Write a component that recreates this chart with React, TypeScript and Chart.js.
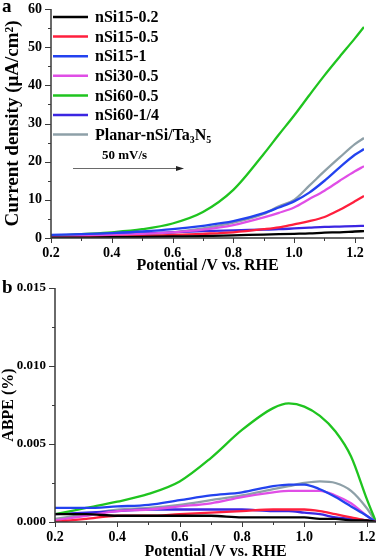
import { useEffect, useRef } from "react";
import { Chart, registerables } from "chart.js";

Chart.register(...registerables);

const FONT = "'Liberation Serif', 'Times New Roman', serif";

// ---------- data ----------
const POTENTIAL = [0.2, 0.3, 0.4, 0.5, 0.6, 0.7, 0.8, 0.9, 0.95, 1.0, 1.05, 1.1, 1.15, 1.2, 1.23];

const SERIES_NAMES = ["nSi15-0.2", "nSi15-0.5", "nSi15-1", "nSi30-0.5", "nSi60-0.5", "nSi60-1/4", "Planar-nSi/Ta₃N₅"];
const SERIES_COLORS = ["#000000", "#ff1f3d", "#2342ef", "#e04ee6", "#1fc41f", "#3b26e2", "#8ea0a8"];

// current density (µA/cm²)
const J_NSI15_02 = [0.1, 0.1, 0.2, 0.3, 0.4, 0.5, 0.7, 0.9, 1.0, 1.1, 1.2, 1.4, 1.5, 1.7, 1.8];
const J_NSI15_05 = [0, 0.1, 0.3, 0.5, 0.8, 1.1, 1.5, 2.3, 2.8, 3.6, 4.4, 5.5, 7.4, 9.6, 11];
const J_NSI15_1 = [0.8, 1.0, 1.3, 1.7, 2.3, 3.2, 4.4, 6.5, 8.0, 9.6, 11.9, 15, 18.5, 21.8, 23.3];
const J_NSI30_05 = [0.3, 0.5, 0.8, 1.1, 1.5, 2.2, 3.4, 5.4, 6.6, 8.0, 10.2, 12.4, 15, 17.5, 18.8];
const J_NSI60_05 = [0.5, 1.0, 1.5, 2.3, 3.8, 6.8, 12.6, 22.0, 27.1, 32.1, 37.4, 42.6, 47.5, 52.3, 55.3];
const J_NSI60_14 = [0.6, 0.8, 1.0, 1.2, 1.5, 1.8, 2.0, 2.2, 2.3, 2.5, 2.7, 2.9, 3.0, 3.1, 3.2];
const J_PLANAR = [0.3, 0.4, 0.6, 0.9, 1.5, 2.5, 4.0, 6.3, 8.3, 10.0, 13.7, 17.5, 21.1, 24.6, 26.2];

// ABPE (%)
const ABPE_NSI15_02 = [0.0005, 0.0005, 0.0004, 0.0004, 0.0004, 0.0004, 0.0003, 0.0003, 0.0003, 0.0003, 0.0002, 0.0002, 0.0001, 0.0001, 0];
const ABPE_NSI15_05 = [0, 0.0002, 0.0004, 0.0004, 0.0005, 0.0006, 0.0007, 0.0008, 0.0008, 0.0008, 0.0007, 0.0005, 0.0003, 0.0001, 0];
const ABPE_NSI15_1 = [0.0009, 0.0009, 0.001, 0.0011, 0.0014, 0.0017, 0.0019, 0.0023, 0.0024, 0.0024, 0.0021, 0.0016, 0.001, 0.0004, 0];
const ABPE_NSI30_05 = [0.0001, 0.0004, 0.0007, 0.0008, 0.001, 0.0012, 0.0016, 0.0019, 0.002, 0.002, 0.002, 0.0017, 0.0012, 0.0004, 0];
const ABPE_NSI60_05 = [0.0005, 0.0009, 0.0013, 0.0018, 0.0026, 0.0041, 0.0059, 0.0073, 0.0076, 0.0074, 0.0068, 0.0058, 0.0042, 0.0015, 0];
const ABPE_NSI60_14 = [0.0005, 0.0006, 0.0007, 0.0008, 0.0008, 0.0008, 0.0008, 0.0007, 0.0007, 0.0006, 0.0005, 0.0003, 0.0002, 0.0001, 0];
const ABPE_PLANAR = [0.0002, 0.0005, 0.0008, 0.0009, 0.0011, 0.0014, 0.0017, 0.0021, 0.0023, 0.0025, 0.0026, 0.0025, 0.002, 0.0009, 0];

const X_TICKS = [0.2, 0.4, 0.6, 0.8, 1.0, 1.2];
const X_MINOR = [0.3, 0.5, 0.7, 0.9, 1.1];
const J_TICKS = [0, 10, 20, 30, 40, 50, 60];
const J_MINOR = [5, 15, 25, 35, 45, 55];
const ABPE_TICKS = [0, 0.005, 0.01, 0.015];
const ABPE_MINOR = [0.0025, 0.0075, 0.0125];

const J_SERIES = [J_NSI15_02, J_NSI15_05, J_NSI15_1, J_NSI30_05, J_NSI60_05, J_NSI60_14, J_PLANAR];
const ABPE_SERIES = [ABPE_NSI15_02, ABPE_NSI15_05, ABPE_NSI15_1, ABPE_NSI30_05, ABPE_NSI60_05, ABPE_NSI60_14, ABPE_PLANAR];

// ---------- helpers ----------
const SUB: Record<string, string> = { "₀": "0", "₁": "1", "₂": "2", "₃": "3", "₄": "4", "₅": "5", "₆": "6", "₇": "7", "₈": "8", "₉": "9" };

function drawRich(ctx: CanvasRenderingContext2D, text: string, x: number, y: number, size: number) {
  const runs: { t: string; sub: boolean }[] = [];
  for (const ch of text) {
    const sub = ch in SUB;
    const c = sub ? SUB[ch] : ch;
    const last = runs[runs.length - 1];
    if (last && last.sub === sub) last.t += c;
    else runs.push({ t: c, sub });
  }
  let cx = x;
  for (const r of runs) {
    const s = r.sub ? size * 0.62 : size;
    ctx.font = `bold ${s}px ${FONT}`;
    ctx.fillText(r.t, cx, r.sub ? y + size * 0.32 : y);
    cx += ctx.measureText(r.t).width;
  }
}

const axesPlugin = {
  id: "axesDeco",
  afterDraw(chart: any, _args: any, opts: any) {
    const { ctx, chartArea: a, scales } = chart;
    const x = scales.x;
    const y = scales.y;
    ctx.save();
    ctx.strokeStyle = "#3a3a3a";
    ctx.lineWidth = 1.5;
    ctx.beginPath();
    ctx.moveTo(a.left, a.top);
    ctx.lineTo(a.left, a.bottom);
    ctx.lineTo(a.right, a.bottom);
    ctx.stroke();
    ctx.lineWidth = 1;
    ctx.beginPath();
    for (const v of opts.xMajor) {
      const px = Math.round(x.getPixelForValue(v)) + 0.5;
      ctx.moveTo(px, a.bottom);
      ctx.lineTo(px, a.bottom + 5);
    }
    for (const v of opts.xMinor) {
      const px = Math.round(x.getPixelForValue(v)) + 0.5;
      ctx.moveTo(px, a.bottom);
      ctx.lineTo(px, a.bottom + 3);
    }
    for (const v of opts.yMajor) {
      const py = Math.round(y.getPixelForValue(v)) + 0.5;
      ctx.moveTo(a.left, py);
      ctx.lineTo(a.left - 6, py);
    }
    for (const v of opts.yMinor) {
      const py = Math.round(y.getPixelForValue(v)) + 0.5;
      ctx.moveTo(a.left, py);
      ctx.lineTo(a.left - 3, py);
    }
    ctx.stroke();

    // panel letter
    ctx.fillStyle = "#000";
    ctx.font = `bold 19px ${FONT}`;
    ctx.textBaseline = "alphabetic";
    ctx.textAlign = "left";
    ctx.fillText(opts.letter, 2, opts.letterY);

    if (opts.legend) {
      const ds = chart.data.datasets;
      ctx.textBaseline = "middle";
      for (let i = 0; i < ds.length; i++) {
        const ry = 17 + i * 19.6;
        ctx.strokeStyle = ds[i].borderColor;
        ctx.lineWidth = 2.5;
        ctx.beginPath();
        ctx.moveTo(53, ry);
        ctx.lineTo(88, ry);
        ctx.stroke();
        ctx.fillStyle = "#000";
        drawRich(ctx, ds[i].label, 95, ry + 1, 16);
      }
      // scan-rate note and arrow
      ctx.font = `bold 13px ${FONT}`;
      ctx.fillStyle = "#000";
      ctx.fillText("50 mV/s", 102, 156);
      ctx.strokeStyle = "#6a6a6a";
      ctx.lineWidth = 1.2;
      ctx.beginPath();
      ctx.moveTo(73, 168.5);
      ctx.lineTo(178, 168.5);
      ctx.stroke();
      ctx.fillStyle = "#222";
      ctx.beginPath();
      ctx.moveTo(184, 168.5);
      ctx.lineTo(176, 166);
      ctx.lineTo(176, 171);
      ctx.closePath();
      ctx.fill();
    }
    ctx.restore();
  },
};

function makeConfig(p: {
  series: number[][];
  yMin: number;
  yMax: number;
  yTicks: number[];
  yMinor: number[];
  yTitle: string;
  yTitleSize: number;
  yTitlePad: number;
  yWidth: number;
  yLabelSize: number;
  yDecimals: number;
  xHeight: number;
  padTop: number;
  padRight: number;
  letter: string;
  letterY: number;
  legend: boolean;
  xTitlePad: number;
}) {
  return {
    type: "line" as const,
    data: {
      datasets: SERIES_NAMES.map((name, i) => ({
        label: name,
        data: POTENTIAL.map((x, k) => ({ x, y: p.series[i][k] })),
        borderColor: SERIES_COLORS[i],
        backgroundColor: SERIES_COLORS[i],
        borderWidth: 2.3,
        pointRadius: 0,
        cubicInterpolationMode: "monotone" as const,
        fill: false,
      })),
    },
    options: {
      responsive: false,
      animation: false as const,
      devicePixelRatio: 1,
      layout: { padding: { left: 0, right: p.padRight, top: p.padTop, bottom: 0 } },
      plugins: {
        legend: { display: false },
        tooltip: { enabled: false },
        axesDeco: {
          xMajor: X_TICKS,
          xMinor: X_MINOR,
          yMajor: p.yTicks,
          yMinor: p.yMinor,
          letter: p.letter,
          letterY: p.letterY,
          legend: p.legend,
        },
      },
      scales: {
        x: {
          type: "linear" as const,
          min: 0.2,
          max: 1.23,
          grid: { display: false, drawTicks: false },
          border: { display: false },
          afterBuildTicks: (s: any) => {
            s.ticks = X_TICKS.map((v) => ({ value: v }));
          },
          afterFit: (s: any) => {
            s.height = p.xHeight;
            s.paddingLeft = 0;
            s.paddingRight = 0;
          },
          ticks: {
            padding: 7,
            color: "#000",
            maxRotation: 0,
            autoSkip: false,
            font: { family: FONT, size: 14, weight: "bold" as const },
            callback: (v: any) => Number(v).toFixed(1),
          },
          title: {
            display: true,
            text: "Potential /V vs. RHE",
            color: "#000",
            font: { family: FONT, size: 16, weight: "bold" as const, lineHeight: 1 },
            padding: { top: 0, bottom: p.xTitlePad },
          },
        },
        y: {
          type: "linear" as const,
          min: p.yMin,
          max: p.yMax,
          grid: { display: false, drawTicks: false },
          border: { display: false },
          afterBuildTicks: (s: any) => {
            s.ticks = p.yTicks.map((v) => ({ value: v }));
          },
          afterFit: (s: any) => {
            s.width = p.yWidth;
            s.paddingTop = 0;
            s.paddingBottom = 0;
          },
          ticks: {
            padding: 9,
            color: "#000",
            autoSkip: false,
            font: { family: FONT, size: p.yLabelSize, weight: "bold" as const },
            callback: (v: any) => Number(v).toFixed(p.yDecimals),
          },
          title: {
            display: true,
            text: p.yTitle,
            color: "#000",
            font: { family: FONT, size: p.yTitleSize, weight: "bold" as const, lineHeight: 1 },
            padding: { top: p.yTitlePad, bottom: 0 },
          },
        },
      },
    },
    plugins: [axesPlugin],
  };
}

function ChartCanvas({ config, width, height }: { config: any; width: number; height: number }) {
  const ref = useRef<HTMLCanvasElement | null>(null);
  useEffect(() => {
    if (!ref.current) return;
    const chart = new Chart(ref.current, config);
    return () => chart.destroy();
  }, [config]);
  return <canvas ref={ref} width={width} height={height} style={{ display: "block", width, height }} />;
}

const TOP_CONFIG = makeConfig({
  series: J_SERIES,
  yMin: 0,
  yMax: 60,
  yTicks: J_TICKS,
  yMinor: J_MINOR,
  yTitle: "Current density (μA/cm²)",
  yTitleSize: 19,
  yTitlePad: 4,
  yWidth: 51,
  yLabelSize: 14,
  yDecimals: 0,
  xHeight: 38,
  padTop: 9,
  padRight: 14,
  letter: "a",
  letterY: 12,
  legend: true,
  xTitlePad: 2,
});

const BOTTOM_CONFIG = makeConfig({
  series: ABPE_SERIES,
  yMin: 0,
  yMax: 0.015,
  yTicks: ABPE_TICKS,
  yMinor: ABPE_MINOR,
  yTitle: "ABPE (%)",
  yTitleSize: 16,
  yTitlePad: 1,
  yWidth: 55,
  yLabelSize: 13,
  yDecimals: 3,
  xHeight: 38,
  padTop: 12,
  padRight: 2,
  letter: "b",
  letterY: 17,
  legend: false,
  xTitlePad: 0,
});

export default function App() {
  return (
    <div style={{ position: "absolute", left: 0, top: 0, width: 378, height: 560, background: "#fff" }}>
      <div style={{ position: "absolute", left: 0, top: 0 }}>
        <ChartCanvas config={TOP_CONFIG} width={378} height={276} />
      </div>
      <div style={{ position: "absolute", left: 0, top: 276 }}>
        <ChartCanvas config={BOTTOM_CONFIG} width={378} height={284} />
      </div>
    </div>
  );
}
